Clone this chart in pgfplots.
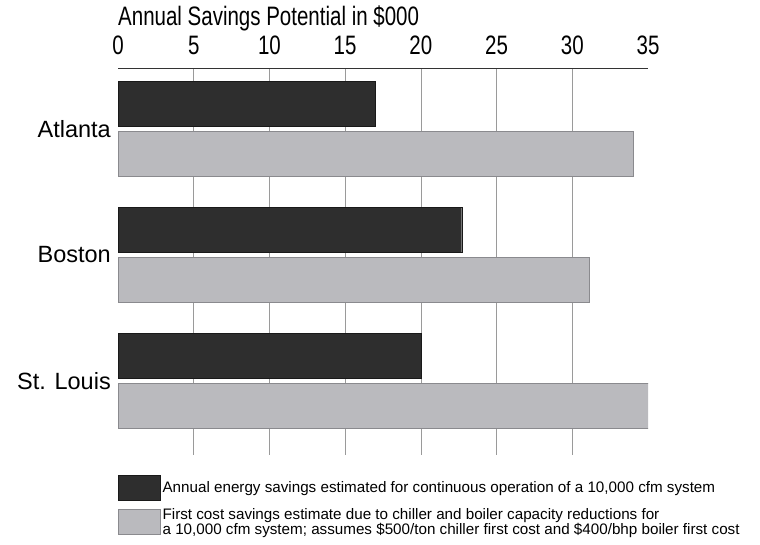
\documentclass[border=0pt]{standalone}
\usepackage{fontspec}
\setmainfont{Liberation Sans}
\usepackage{pgfplots}
\pgfplotsset{compat=1.18}
\newcommand\tall[1]{\scalebox{1}[1.3]{#1}}
\definecolor{darkbar}{HTML}{2E2E2E}
\definecolor{lightbar}{HTML}{BABABE}
\definecolor{lightedge}{HTML}{8A8A8E}
\definecolor{gridc}{HTML}{9A9A9A}
\begin{document}
\begin{tikzpicture}[x=1pt,y=1pt]
\path[use as bounding box] (0,0) rectangle (760,-545);
\begin{axis}[
  at={(118pt,-68pt)}, anchor=north west,
  scale only axis, width=530pt, height=387pt,
  xmin=0, xmax=35, ymin=-0.484, ymax=2.587, y dir=reverse,
  axis x line*=top, axis y line*=left,
  x axis line style={draw=black!80, line width=0.8pt},
  y axis line style={draw=none},
  xtick={5,10,...,30}, ytick={0,1,2},
  extra x ticks={0,35}, extra x tick style={grid=none},
  yticklabels={Atlanta,Boston,St. Louis},
  major tick length=0pt,
  xmajorgrids, major grid style={gridc, line width=0.6pt},
  /pgf/number format/assume math mode=true,
  xticklabel={\tall{\pgfmathprintnumber{\tick}}},
  xticklabel style={font=\fontsize{20.5}{24}\selectfont, inner sep=0pt, anchor=south, yshift=13.5pt},
  yticklabel style={font=\fontsize{23.5}{28}\selectfont, inner sep=0pt, anchor=east, xshift=-7pt},
  title={\tall{Annual Savings Potential in \$000}},
  title style={font=\fontsize{20.5}{24}\selectfont, at={(0,1)}, anchor=base west, inner sep=0pt, yshift=37pt},
  legend style={at={(0,0)}, anchor=north west, yshift=-20pt, draw=none, fill=none,
    inner sep=0pt, font=\fontsize{15.2}{14.5}\selectfont, row sep=6pt,
    cells={align=left}},
  legend cell align=left,
  legend image code/.code={\draw[#1] (0pt,-12.5pt) rectangle (42pt,12.5pt);},
]
\addplot[xbar, bar width=45pt, bar shift=0pt, fill=darkbar, draw=black!90]
  coordinates {(17,-0.198) (22.7,0.802) (20,1.802)};
\addlegendentry{Annual energy savings estimated for continuous operation of a 10,000 cfm system}
\addplot[xbar, bar width=45pt, bar shift=0pt, fill=lightbar, draw=lightedge]
  coordinates {(34,0.198) (31.1,1.198) (35.2,2.198)};
\addlegendentry{First cost savings estimate due to chiller and boiler capacity reductions for\\a 10,000 cfm system; assumes \$500/ton chiller first cost and \$400/bhp boiler first cost}
\end{axis}
\end{tikzpicture}
\end{document}
